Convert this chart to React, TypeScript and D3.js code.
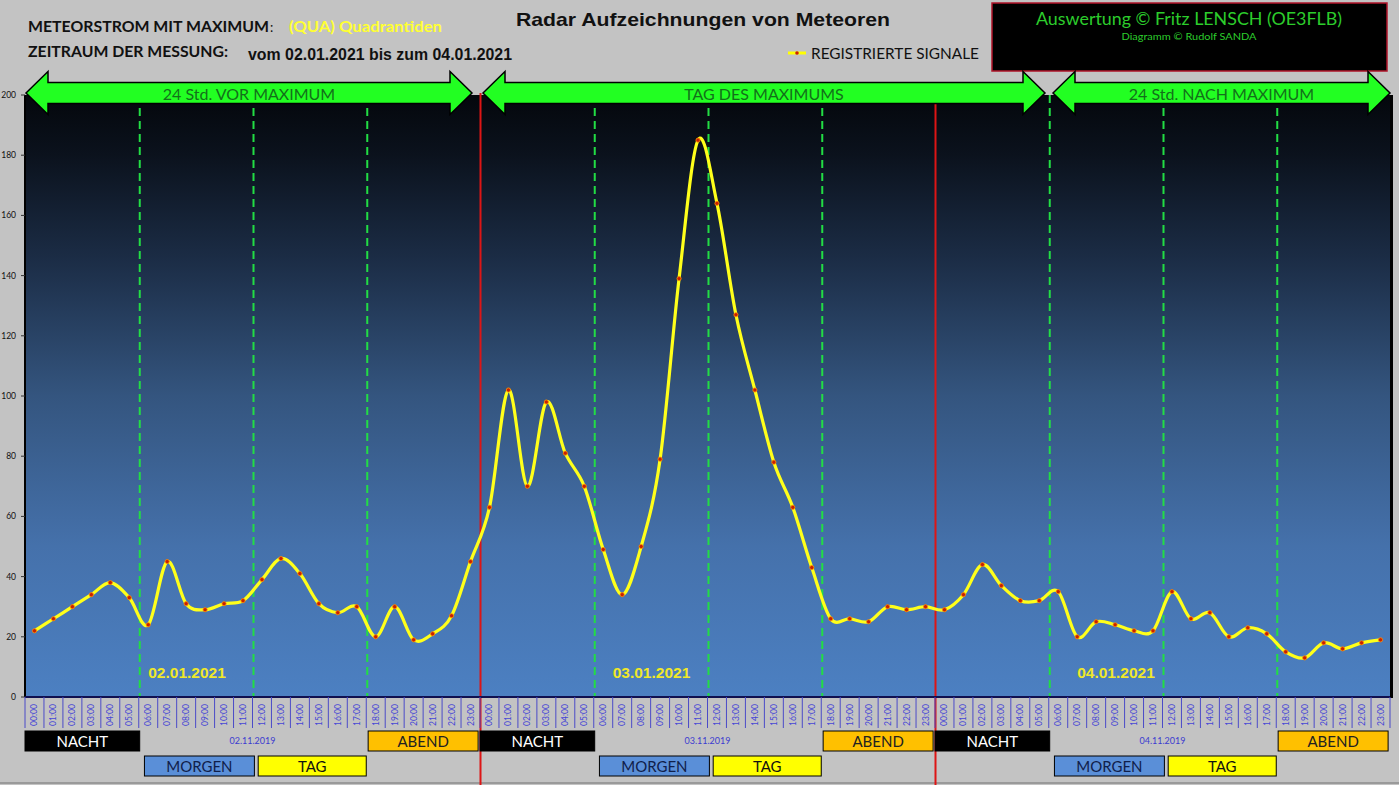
import React from 'react';
import * as d3 from 'd3';

const HOURS = ['00:00','01:00','02:00','03:00','04:00','05:00','06:00','07:00','08:00','09:00','10:00','11:00','12:00','13:00','14:00','15:00','16:00','17:00','18:00','19:00','20:00','21:00','22:00','23:00'];
const DAYS = ['02.01.2021', '03.01.2021', '04.01.2021'];
const DAY_LABEL_HOUR = [6.5, 7, 7.5];
const AXIS_DATES = ['02.11.2019', '03.11.2019', '04.11.2019'];
const DAY1 = [22,26,30,34,38,33,24,45,31,29,31,32,39,46,41,31,28,30,20,30,19,21,27,45];
const DAY2 = [63,102,70,98,81,70,49,34,50,79,139,185,164,127,102,78,63,43,26,26,25,30,29,30];
const DAY3 = [29,34,44,37,32,32,35,20,25,24,22,22,35,26,28,20,23,21,15,13,18,16,18,19];
const Y_TICKS = [0,20,40,60,80,100,120,140,160,180,200];
const ARROW_LABELS = ['24 Std. VOR MAXIMUM', 'TAG DES MAXIMUMS', '24 Std. NACH MAXIMUM'];
// periods: [label, start hour, end hour, row, fill, text colour]
const PERIODS: [string, number, number, number, string, string][] = [
  ['NACHT', 0, 6.05, 0, '#000000', '#ffffff'],
  ['MORGEN', 6.3, 12.1, 1, '#5a8fd8', '#10204a'],
  ['TAG', 12.3, 18.0, 1, '#ffff00', '#111111'],
  ['ABEND', 18.1, 23.9, 0, '#ffc000', '#222222'],
];

const W = 1399, H = 785;
const L = 25, R = 1390, T = 95, B = 697;

export default function App() {
  const values = [...DAY1, ...DAY2, ...DAY3];
  const labels = [0, 1, 2].flatMap(d => HOURS.map(h => `${d}-${h}`));
  const x = d3.scaleBand<string>().domain(labels).range([L, R]).padding(0);
  const bw = x.bandwidth();
  const xc = (i: number) => (x(labels[i]) as number) + bw / 2;
  const xh = (h: number) => L + h * bw; // boundary at hour h (0..72)
  const y = d3.scaleLinear().domain([0, 200]).range([B, T]);

  const line = d3.line<number>()
    .x((_, i) => xc(i))
    .y(d => y(d))
    .curve(d3.curveCardinal.tension(0));

  const arrowPath = (x1: number, x2: number) => {
    const cy = 93, bh = 10.5, hh = 21.5, hl = 22;
    return `M${x1},${cy} L${x1 + hl},${cy - hh} L${x1 + hl},${cy - bh} L${x2 - hl},${cy - bh} L${x2 - hl},${cy - hh} L${x2},${cy} L${x2 - hl},${cy + hh} L${x2 - hl},${cy + bh} L${x1 + hl},${cy + bh} L${x1 + hl},${cy + hh} Z`;
  };
  const arrows = [[26, 472], [483, 1045], [1053, 1390]];

  const calibri = "Lato, 'Open Sans', sans-serif";
  const arial = "'Liberation Sans', Arial, sans-serif";

  return (
    <svg width={W} height={H} style={{ position: 'absolute', left: 0, top: 0, display: 'block' }}>
      <defs>
        <linearGradient id="bg" x1="0" y1="0" x2="0" y2="1">
          <stop offset="0" stopColor="#04070c" />
          <stop offset="0.1" stopColor="#0b121d" />
          <stop offset="0.27" stopColor="#1b2c45" />
          <stop offset="0.5" stopColor="#34557f" />
          <stop offset="0.75" stopColor="#4571ab" />
          <stop offset="1" stopColor="#4c80c2" />
        </linearGradient>
      </defs>
      <rect x={0} y={0} width={W} height={H} fill="#c3c3c3" />
      <line x1={0} x2={W} y1={783} y2={783} stroke="#9a9a9a" strokeWidth={2} />

      {/* plot background */}
      <rect x={L} y={T} width={R - L} height={B - T} fill="url(#bg)" />

      {/* header texts */}
      <text x={28} y={32} fontFamily={calibri} fontWeight={700} fontSize={16} fill="#111" textLength={241} lengthAdjust="spacingAndGlyphs">METEORSTROM MIT MAXIMUM</text>
      <text x={270} y={32} fontFamily={calibri} fontSize={13} fill="#111">:</text>
      <text x={289} y={32} fontFamily={calibri} fontWeight={700} fontSize={16} fill="#ffff33" textLength={153} lengthAdjust="spacingAndGlyphs">(QUA) Quadrantiden</text>
      <text x={28} y={57} fontFamily={calibri} fontWeight={700} fontSize={16} fill="#111" textLength={200} lengthAdjust="spacingAndGlyphs">ZEITRAUM DER MESSUNG:</text>
      <text x={248} y={60} fontFamily={arial} fontWeight={700} fontSize={16} fill="#111" textLength={264} lengthAdjust="spacingAndGlyphs">vom 02.01.2021 bis zum 04.01.2021</text>
      <text x={516} y={26} fontFamily={arial} fontWeight={700} fontSize={19} fill="#111" textLength={374} lengthAdjust="spacingAndGlyphs">Radar Aufzeichnungen von Meteoren</text>

      {/* legend */}
      <line x1={788} x2={806} y1={53} y2={53} stroke="#ffff00" strokeWidth={3} />
      <circle cx={797} cy={53} r={1.8} fill="#cc2200" />
      <text x={811} y={59} fontFamily={calibri} fontSize={15} fill="#111" textLength={168} lengthAdjust="spacingAndGlyphs">REGISTRIERTE SIGNALE</text>

      {/* credits box */}
      <rect x={992} y={3} width={395} height={68} fill="#000" stroke="#b0142a" strokeWidth={1.5} />
      <text x={1189} y={25} textAnchor="middle" fontFamily={calibri} fontSize={17.5} fill="#2ccc2c" textLength={306} lengthAdjust="spacingAndGlyphs">Auswertung © Fritz LENSCH (OE3FLB)</text>
      <text x={1189} y={40} textAnchor="middle" fontFamily={calibri} fontSize={10} fill="#2ccc2c" textLength={135} lengthAdjust="spacingAndGlyphs">Diagramm © Rudolf SANDA</text>

      {/* green dashed separators */}
      {[0, 1, 2].flatMap(d => [6, 12, 18].map(h => (
        <line key={`g${d}-${h}`} x1={xh(d * 24 + h) + 1} x2={xh(d * 24 + h) + 1} y1={T} y2={B} stroke="#22dd44" strokeWidth={2} strokeDasharray="8 5" />
      )))}
      {/* red day separators */}
      {[24, 48].map(h => (
        <line key={`r${h}`} x1={xh(h) + 0.5} x2={xh(h) + 0.5} y1={T - 2} y2={H} stroke="#dd1515" strokeWidth={2} />
      ))}

      {/* date labels in plot */}
      {DAYS.map((d, i) => (
        <text key={d} x={xh(i * 24 + DAY_LABEL_HOUR[i])} y={678} fontFamily={arial} fontWeight={700} fontSize={15.5} fill="#f0e828">{d}</text>
      ))}

      {/* series */}
      <path d={line(values) || ''} fill="none" stroke="#ffff1a" strokeWidth={3.2} />
      {values.map((v, i) => (
        <circle key={i} cx={xc(i)} cy={y(v)} r={2.1} fill="#c82000" stroke="#ff8c00" strokeWidth={0.8} />
      ))}

      {/* axes */}
      <line x1={L} x2={L} y1={T} y2={B} stroke="#000" strokeWidth={2} />
      <line x1={R + 1.5} x2={R + 1.5} y1={T} y2={B + 1} stroke="#000" strokeWidth={3} />
      <line x1={L} x2={R} y1={B} y2={B} stroke="#101050" strokeWidth={2} />
      {Y_TICKS.map(t => (
        <g key={t}>
          <line x1={L - 4} x2={L} y1={y(t)} y2={y(t)} stroke="#333" strokeWidth={1} />
          <text x={16} y={y(t) + 3} textAnchor="end" fontFamily={calibri} fontSize={8.5} fill="#111">{t}</text>
        </g>
      ))}

      {/* x tick label area */}
      {d3.range(73).map(i => (
        <line key={`s${i}`} x1={xh(i)} x2={xh(i)} y1={B} y2={728} stroke="#4b4bc8" strokeWidth={1} />
      ))}
      {labels.map((lab, i) => (
        <text key={lab} transform={`translate(${xc(i) + 3},${715}) rotate(-90)`} textAnchor="middle" fontFamily={calibri} fontSize={8.5} fill="#4646d6">{HOURS[i % 24]}</text>
      ))}

      {/* period boxes */}
      {[0, 1, 2].flatMap(d => PERIODS.map(([name, s, e, row, fill, tc]) => {
        const x1 = xh(d * 24 + s), x2 = xh(d * 24 + e);
        const y1 = row === 0 ? 731 : 756;
        return (
          <g key={`${d}-${name}`}>
            <rect x={x1} y={y1} width={x2 - x1} height={20} fill={fill} stroke="#000" strokeWidth={1} />
            <text x={(x1 + x2) / 2} y={y1 + 15.5} textAnchor="middle" fontFamily={calibri} fontSize={15} fill={tc}>{name}</text>
          </g>
        );
      }))}
      {AXIS_DATES.map((d, i) => (
        <text key={d} x={xh(i * 24 + 12)} y={744} textAnchor="middle" fontFamily={calibri} fontSize={9} fill="#3c3cd0">{d}</text>
      ))}

      {/* arrows */}
      {arrows.map(([a, b], i) => (
        <g key={i}>
          <path d={arrowPath(a, b)} fill="#22ff22" stroke="#000" strokeWidth={1.5} strokeLinejoin="miter" />
          <text x={(a + b) / 2} y={100} textAnchor="middle" fontFamily={calibri} fontSize={16} fill="#13701a">{ARROW_LABELS[i]}</text>
        </g>
      ))}
    </svg>
  );
}
